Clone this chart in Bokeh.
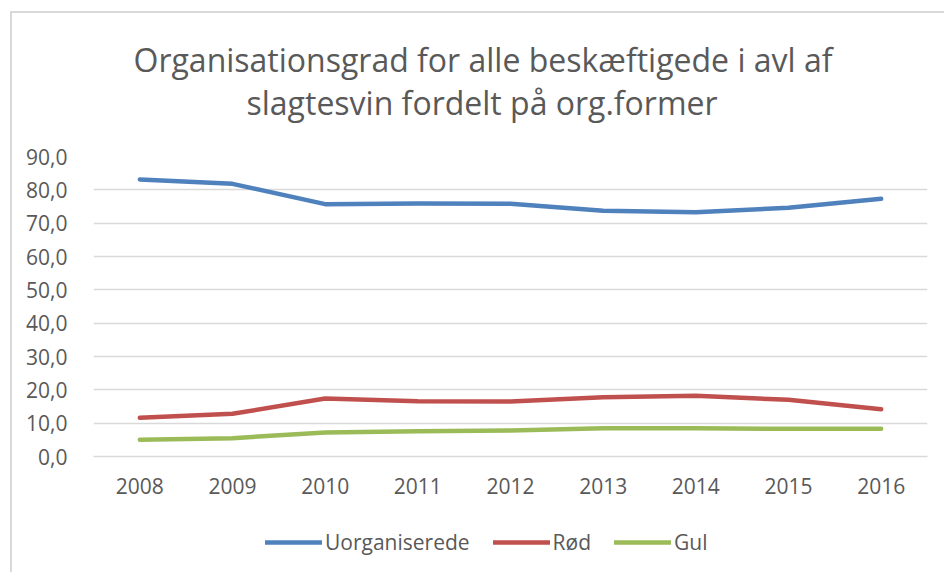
from bokeh.plotting import figure
from bokeh.layouts import column
from bokeh.models import Range1d, FixedTicker, Title, Legend, LegendItem, ColumnDataSource
from bokeh.embed import file_html
from bokeh.resources import INLINE

years = ["2008", "2009", "2010", "2011", "2012", "2013", "2014", "2015", "2016"]
uorganiserede = [83.1, 81.8, 75.7, 75.9, 75.8, 73.7, 73.3, 74.6, 77.3]
rod = [11.6, 12.8, 17.4, 16.6, 16.5, 17.8, 18.2, 17.0, 14.2]
gul = [5.0, 5.5, 7.2, 7.6, 7.8, 8.5, 8.5, 8.3, 8.3]
series_names = ["Uorganiserede", "Rød", "Gul"]
y_ticks = [0, 10, 20, 30, 40, 50, 60, 70, 80, 90]
y_tick_labels = ["0,0", "10,0", "20,0", "30,0", "40,0", "50,0", "60,0", "70,0", "80,0", "90,0"]
title_lines = ["Organisationsgrad for alle beskæftigede i avl af", "slagtesvin fordelt på org.former"]

colors = ["#4F81BD", "#C0504D", "#9BBB59"]
text_color = "#595959"
grid_color = "#D9D9D9"
FONT = "Open Sans"
GRAD = "linear-gradient(#D9D9D9, #D9D9D9)"

p = figure(frame_width=834, frame_height=300, x_range=years, y_range=Range1d(0, 90),
           output_backend="svg", toolbar_location=None,
           min_border_left=93, min_border_right=17, min_border_top=156, min_border_bottom=60)
p.outline_line_color = None
p.background_fill_color = "white"
p.border_fill_alpha = 0
p.styles = {"background": f"{GRAD} 10px 11px / 2px 100% no-repeat, {GRAD} 10px 11px / 100% 2px no-repeat, white"}

p.yaxis.ticker = FixedTicker(ticks=y_ticks)
p.yaxis.major_label_overrides = {t: l for t, l in zip(y_ticks, y_tick_labels)}
p.yaxis.axis_line_color = None
p.yaxis.major_tick_line_color = None
p.yaxis.minor_tick_line_color = None
p.yaxis.major_label_standoff = 20
p.yaxis.major_label_text_font = FONT
p.yaxis.major_label_text_font_size = "21px"
p.yaxis.major_label_text_color = text_color

p.xaxis.axis_line_color = grid_color
p.xaxis.axis_line_width = 1.5
p.xaxis.major_tick_line_color = None
p.xaxis.minor_tick_line_color = None
p.xaxis.major_label_standoff = 15
p.xaxis.major_label_text_font = FONT
p.xaxis.major_label_text_font_size = "21px"
p.xaxis.major_label_text_color = text_color

p.xgrid.grid_line_color = None
p.ygrid.grid_line_color = grid_color
p.ygrid.grid_line_width = 1.5

src = ColumnDataSource(dict(x=years, u=uorganiserede, r=rod, g=gul))
for col, c in zip(["u", "r", "g"], colors):
    p.line("x", col, source=src, line_color=c, line_width=4.5, line_cap="round", line_join="round")

# titles: added nearest-first (spacer, line 2, line 1)
p.add_layout(Title(text=" ", standoff=-11.5, text_font=FONT, text_font_size="32px"), "above")
p.add_layout(Title(text=title_lines[1], align="left", offset=153, standoff=-2,
                   text_font=FONT, text_font_size="32px", text_color=text_color,
                   text_font_style="normal"), "above")
p.add_layout(Title(text=title_lines[0], align="left", offset=40, standoff=-2,
                   text_font=FONT, text_font_size="32px", text_color=text_color,
                   text_font_style="normal"), "above")

# legend strip below the chart (same series, drawn outside its visible y-range)
lg = figure(width=944, height=56, x_range=years, y_range=Range1d(1000, 1001),
            x_axis_type=None, y_axis_type=None, output_backend="svg", toolbar_location=None,
            min_border=0, min_border_left=0, min_border_right=0, min_border_top=0, min_border_bottom=0)
lg.outline_line_color = None
lg.grid.grid_line_color = None
lg.background_fill_alpha = 0
lg.border_fill_alpha = 0
lg.styles = {"background": f"{GRAD} 10px 0px / 2px 100% no-repeat, white"}
leg_renderers = []
for col, c in zip(["u", "r", "g"], colors):
    leg_renderers.append(lg.line("x", col, source=src, line_color=c, line_width=4.5, line_cap="round"))

legend = Legend(items=[LegendItem(label=n, renderers=[r]) for n, r in zip(series_names, leg_renderers)],
                orientation="horizontal", location=(172, 16),
                glyph_width=57, glyph_height=20, label_standoff=3, spacing=23,
                padding=0, margin=0, border_line_color=None, background_fill_alpha=0,
                label_text_font=FONT, label_text_font_size="21px", label_text_color=text_color)
lg.add_layout(legend, "center")

layout = column(p, lg, spacing=0)
open("out.html", "w").write(file_html(layout, INLINE))
